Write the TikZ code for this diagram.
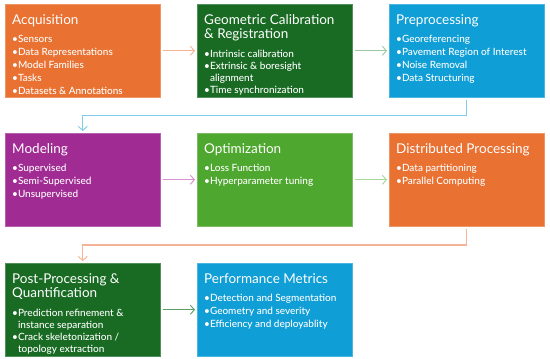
\documentclass[tikz,border=0pt]{standalone}
\usepackage{fontspec}
\setmainfont{Lato}
\IfFontExistsTF{Lato Medium}{\newfontfamily\bulfont{Lato Medium}}{\newfontfamily\bulfont{Lato}}
\usetikzlibrary{arrows.meta}
\definecolor{cOrange}{HTML}{E97132}
\definecolor{cDkGreen}{HTML}{196B24}
\definecolor{cBlue}{HTML}{0F9ED5}
\definecolor{cPurple}{HTML}{A02B93}
\definecolor{cGreen}{HTML}{4EA72E}
\definecolor{aSalmon}{HTML}{F5B496}
\definecolor{aLtGreen}{HTML}{9CC8A2}
\definecolor{aLtBlue}{HTML}{7FCCEB}
\definecolor{aMagenta}{HTML}{D890CE}
\definecolor{aLime}{HTML}{A8D69A}
\definecolor{aMidGreen}{HTML}{5E9E68}
\begin{document}
\begin{tikzpicture}[x=1pt,y=-1pt,
  box/.style={draw=#1!75!white, line width=0.5pt, fill=#1, minimum width=155pt, minimum height=93pt, anchor=north west, inner sep=0pt},
  ttl/.style={anchor=north west, inner sep=0pt, text=white, align=left, font=\fontsize{13.5}{14.5}\selectfont},
  bul/.style={anchor=north west, inner sep=0pt, text=white, align=left, font=\bulfont\fontsize{10}{13}\selectfont},
  bultight/.style={bul, font=\bulfont\fontsize{10}{12.2}\selectfont},
  conn/.style={draw=#1, line width=1.1pt, -{Straight Barb[length=4pt,width=9pt,line width=0.9pt]}, shorten <=2pt, shorten >=2pt}
]
\useasboundingbox[fill=white] (0,0) rectangle (550,359);
\newcommand{\fr}{\rule{0pt}{10pt}}
\newcommand{\tr}{\rule{0pt}{13pt}}
\newcommand{\hb}{\hphantom{\textbullet}}

% Row 1
\node[box=cOrange] (acq) at (5,4) {};
\node[ttl] (acqT) at (12,11) {\tr Acquisition};
\node[bul] (acqB) at (12,32) {\fr\textbullet Sensors\\\textbullet Data Representations\\\textbullet Model Families\\\textbullet Tasks\\\textbullet Datasets \& Annotations};

\node[box=cDkGreen] (geo) at (197,4) {};
\node[ttl] (geoT) at (204,11) {\tr Geometric Calibration\\\& Registration};
\node[bultight] (geoB) at (204,47) {\fr\textbullet Intrinsic calibration\\\textbullet Extrinsic \& boresight\\\hb alignment\\\textbullet Time synchronization};

\node[box=cBlue] (pre) at (389,4) {};
\node[ttl] (preT) at (396,11) {\tr Preprocessing};
\node[bul] (preB) at (396,32) {\fr\textbullet Georeferencing\\\textbullet Pavement Region of Interest\\\textbullet Noise Removal\\\textbullet Data Structuring};

% Row 2
\node[box=cPurple] (mod) at (5,133) {};
\node[ttl] (modT) at (12,140) {\tr Modeling};
\node[bul] (modB) at (12,161) {\fr\textbullet Supervised\\\textbullet Semi-Supervised\\\textbullet Unsupervised};

\node[box=cGreen] (opt) at (197,133) {};
\node[ttl] (optT) at (204,140) {\tr Optimization};
\node[bul] (optB) at (204,161) {\fr\textbullet Loss Function\\\textbullet Hyperparameter tuning};

\node[box=cOrange] (dis) at (389,133) {};
\node[ttl] (disT) at (396,140) {\tr Distributed Processing};
\node[bul] (disB) at (396,161) {\fr\textbullet Data partitioning\\\textbullet Parallel Computing};

% Row 3
\node[box=cDkGreen] (post) at (5,263) {};
\node[ttl] (postT) at (12,270) {\tr Post-Processing \&\\Quantification};
\node[bultight] (postB) at (12,306) {\fr\textbullet Prediction refinement \&\\\hb instance separation\\\textbullet Crack skeletonization /\\\hb topology extraction};

\node[box=cBlue] (perf) at (197,263) {};
\node[ttl] (perfT) at (204,270) {\tr Performance Metrics};
\node[bul] (perfB) at (204,291) {\fr\textbullet Detection and Segmentation\\\textbullet Geometry and severity\\\textbullet Efficiency and deployablity};

% Connectors
\draw[conn=aSalmon] (acq.east) -- (geo.west);
\draw[conn=aLtGreen] (geo.east) -- (pre.west);
\draw[conn=aLtBlue] (pre.south) -- ++(0,18) -| (mod.north);
\draw[conn=aMagenta] (mod.east) -- (opt.west);
\draw[conn=aLime] (opt.east) -- (dis.west);
\draw[conn=aSalmon] (dis.south) -- ++(0,18.5) -| (post.north);
\draw[conn=aMidGreen] (post.east) -- (perf.west);
\end{tikzpicture}
\end{document}
